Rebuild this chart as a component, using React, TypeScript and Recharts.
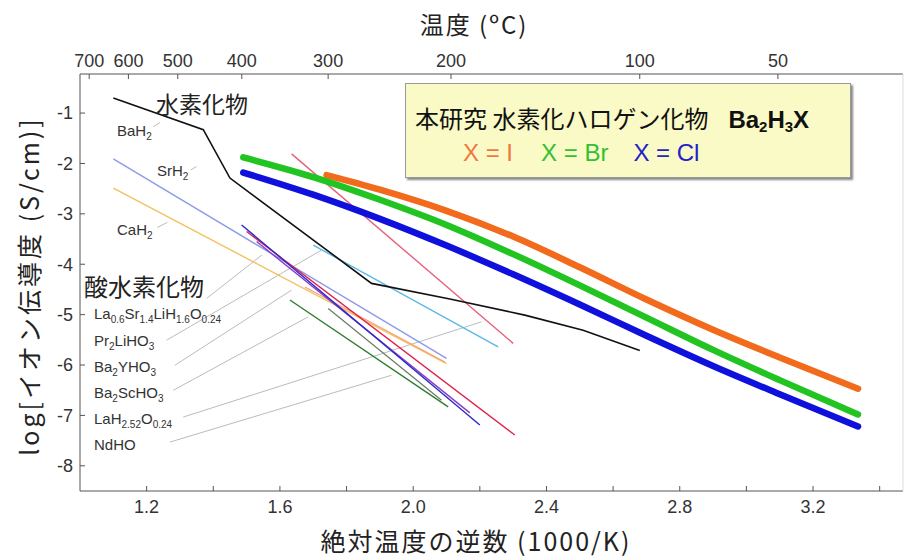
import React from 'react'
import { LineChart, Line, XAxis, YAxis } from 'recharts'

// axis ticks
const tempLabelsC = [700, 600, 500, 400, 300, 200, 100, 50]
const inverseTicks = [1.2, 1.4, 1.6, 1.8, 2.0, 2.2, 2.4, 2.6, 2.8, 3.0, 3.2, 3.4]
const logTicks = [-1, -2, -3, -4, -5, -6, -7, -8]

// this work: Ba2H3X  [1000/T, log sigma]
const ba2h3i = [[1.74, -2.23], [1.9, -2.52], [2.1, -2.94], [2.3, -3.45], [2.5, -4.06], [2.7, -4.7], [2.9, -5.3], [3.1, -5.85], [3.335, -6.47]]
const ba2h3br = [[1.49, -1.88], [1.7, -2.27], [1.9, -2.72], [2.1, -3.22], [2.3, -3.8], [2.5, -4.42], [2.7, -5.06], [2.9, -5.7], [3.1, -6.3], [3.335, -6.98]]
const ba2h3cl = [[1.49, -2.18], [1.7, -2.62], [1.9, -3.1], [2.1, -3.63], [2.3, -4.2], [2.5, -4.8], [2.7, -5.42], [2.9, -6.02], [3.1, -6.58], [3.335, -7.22]]

// hydrides
const bah2 = [[1.1, -0.7], [1.37, -1.33], [1.45, -2.29], [1.875, -4.38], [2.11, -4.69], [2.335, -5.01], [2.51, -5.31], [2.68, -5.71]]
const srh2 = [[1.1, -1.91], [2.1, -5.87]]
const cah2 = [[1.1, -2.49], [2.1, -5.97]]

// oxyhydrides
const laSrLiHO = [[1.635, -1.81], [2.3, -5.57]]
const pr2LiHO3 = [[1.7, -3.62], [2.255, -5.64]]
const ba2YHO3 = [[1.485, -3.22], [2.2, -7.19]]
const ba2ScHO3 = [[1.5, -3.35], [2.305, -7.39]]
const laH252O = [[1.53, -3.55], [2.17, -6.95]]
const ndHO = [[1.63, -4.71], [2.105, -6.83]]
const extraA = [[1.745, -4.88], [2.085, -6.7]]
const extraB = [[1.675, -4.45], [2.095, -5.94]]

// label leaders
const leaderLa = [[1.38, -4.678], [1.546, -3.817]]
const leaderPr = [[1.26, -5.507], [1.725, -3.718]]
const leaderY = [[1.285, -6.004], [1.635, -4.513]]
const leaderSc = [[1.28, -6.501], [1.685, -5.044]]
const leaderLaH = [[1.31, -7.032], [2.205, -5.143]]
const leaderNd = [[1.27, -7.529], [1.935, -6.203]]
const leaderBa = [[1.22, -1.27], [1.24, -1.19]]
const leaderSr = [[1.332, -2.13], [1.35, -2.06]]
const leaderCa = [[1.232, -3.27], [1.262, -3.17]]

const pts = (a: number[][]) => a.map(([x, y]) => ({ x, y }))

const series = [
  { key: 'lLa', d: leaderLa, c: '#aaaaaa', w: 0.8 },
  { key: 'lPr', d: leaderPr, c: '#aaaaaa', w: 0.8 },
  { key: 'lY', d: leaderY, c: '#aaaaaa', w: 0.8 },
  { key: 'lSc', d: leaderSc, c: '#aaaaaa', w: 0.8 },
  { key: 'lLaH', d: leaderLaH, c: '#aaaaaa', w: 0.8 },
  { key: 'lNd', d: leaderNd, c: '#aaaaaa', w: 0.8 },
  { key: 'lBa', d: leaderBa, c: '#aaaaaa', w: 0.8 },
  { key: 'lSr', d: leaderSr, c: '#aaaaaa', w: 0.8 },
  { key: 'lCa', d: leaderCa, c: '#aaaaaa', w: 0.8 },
  { key: 'srh2', d: srh2, c: '#8c9be8', w: 1.4 },
  { key: 'cah2', d: cah2, c: '#f4c060', w: 1.4 },
  { key: 'extraB', d: extraB, c: '#f5a07a', w: 1.2 },
  { key: 'laSr', d: laSrLiHO, c: '#e8607a', w: 1.4 },
  { key: 'pr2', d: pr2LiHO3, c: '#5cb8e8', w: 1.4 },
  { key: 'extraA', d: extraA, c: '#6a7a6a', w: 1.2 },
  { key: 'ba2Sc', d: ba2ScHO3, c: '#e0204a', w: 1.4 },
  { key: 'laH', d: laH252O, c: '#8a3cc8', w: 1.4 },
  { key: 'ba2Y', d: ba2YHO3, c: '#2a2ac8', w: 1.4 },
  { key: 'nd', d: ndHO, c: '#2e7d2e', w: 1.4 },
  { key: 'bah2', d: bah2, c: '#111111', w: 1.6 },
]

const thick = [
  { key: 'I', d: ba2h3i, c: '#f26a1b' },
  { key: 'Br', d: ba2h3br, c: '#22c422' },
  { key: 'Cl', d: ba2h3cl, c: '#1010dd' },
]

const latin = '"Liberation Sans", Arial, sans-serif'
const jp = '"Noto Sans CJK JP", "Noto Sans", sans-serif'
const tickStyle = { fill: '#333', fontSize: 18, fontFamily: latin }

const Sub = ({ children, size = 10 }: { children: React.ReactNode; size?: number }) => (
  <span style={{ fontSize: size, position: 'relative', top: 4 }}>{children}</span>
)

const Lbl = ({ x, y, size = 15, children, style }: any) => (
  <div style={{ position: 'absolute', left: x, top: y, transform: 'translateY(-50%)', fontSize: size, lineHeight: 1, whiteSpace: 'nowrap', color: '#333', fontFamily: latin, ...style }}>
    {children}
  </div>
)

export default function App() {
  return (
    <div style={{ position: 'absolute', left: 0, top: 0, width: 904, height: 559, background: '#fff', overflow: 'hidden' }}>
      <LineChart width={904} height={559} margin={{ top: 44, right: 0, bottom: 38, left: 40 }}>
        <XAxis xAxisId="bottom" type="number" dataKey="x" domain={[1.0, 3.47]} ticks={inverseTicks} allowDataOverflow
          height={30} tickSize={-5} tickMargin={14} tick={tickStyle} stroke="#555"
          tickFormatter={(v: number) => (Math.round(v * 10) % 4 === 0 ? v.toFixed(1) : '')} />
        <XAxis xAxisId="top" orientation="top" type="number" dataKey="x" domain={[1.0, 3.47]} allowDataOverflow
          ticks={tempLabelsC.map((t) => 1000 / (t + 273.15))} height={30} tickSize={-5} tickMargin={12}
          tick={tickStyle} stroke="#555" tickFormatter={(v: number) => String(Math.round(1000 / v - 273.15))} />
        <YAxis yAxisId="left" type="number" domain={[-8.5, -0.225]} ticks={logTicks} allowDataOverflow width={40}
          tickSize={-5} tickMargin={12} tick={tickStyle} stroke="#555" />
        <YAxis yAxisId="right" orientation="right" type="number" domain={[-8.5, -0.225]} width={1} tick={false}
          tickLine={false} stroke="#ddd" />
        {series.map((s) => (
          <Line key={s.key} xAxisId="bottom" yAxisId="left" data={pts(s.d)} dataKey="y" stroke={s.c}
            strokeWidth={s.w} dot={false} isAnimationActive={false} type="linear" />
        ))}
        {thick.map((s) => (
          <Line key={s.key} xAxisId="bottom" yAxisId="left" data={pts(s.d)} dataKey="y" stroke={s.c}
            strokeWidth={6.5} dot={false} isAnimationActive={false} type="monotone" strokeLinecap="round" />
        ))}
      </LineChart>

      <div style={{ position: 'absolute', left: 474, top: 24, transform: 'translate(-50%,-50%)', fontSize: 24, letterSpacing: 2, fontFamily: jp, color: '#222', whiteSpace: 'nowrap', lineHeight: 1 }}>
        温度 (ºC)
      </div>
      <div style={{ position: 'absolute', left: 476, top: 540, transform: 'translate(-50%,-50%)', fontSize: 25, letterSpacing: 2, fontFamily: jp, color: '#222', whiteSpace: 'nowrap', lineHeight: 1 }}>
        絶対温度の逆数 (1000/K)
      </div>
      <div style={{ position: 'absolute', left: 28, top: 286, transform: 'translate(-50%,-50%) rotate(-90deg)', fontSize: 25, letterSpacing: 3, fontFamily: jp, color: '#222', whiteSpace: 'nowrap', lineHeight: 1 }}>
        log[イオン伝導度 (S/cm)]
      </div>

      <Lbl x={156} y={103} size={23} style={{ fontFamily: jp, color: '#222' }}>水素化物</Lbl>
      <Lbl x={117} y={130}>BaH<Sub>2</Sub></Lbl>
      <Lbl x={157} y={170}>SrH<Sub>2</Sub></Lbl>
      <Lbl x={117} y={229}>CaH<Sub>2</Sub></Lbl>
      <Lbl x={84} y={286} size={24} style={{ fontFamily: jp, color: '#222' }}>酸水素化物</Lbl>
      <Lbl x={94} y={313}>La<Sub>0.6</Sub>Sr<Sub>1.4</Sub>LiH<Sub>1.6</Sub>O<Sub>0.24</Sub></Lbl>
      <Lbl x={94} y={340}>Pr<Sub>2</Sub>LiHO<Sub>3</Sub></Lbl>
      <Lbl x={94} y={366}>Ba<Sub>2</Sub>YHO<Sub>3</Sub></Lbl>
      <Lbl x={94} y={392}>Ba<Sub>2</Sub>ScHO<Sub>3</Sub></Lbl>
      <Lbl x={94} y={418}>LaH<Sub>2.52</Sub>O<Sub>0.24</Sub></Lbl>
      <Lbl x={94} y={444}>NdHO</Lbl>

      <div style={{ position: 'absolute', left: 405, top: 83, width: 444, height: 93, background: '#fafac6', border: '1px solid #999', boxShadow: '2px 2px 2px #888' }}>
        <div style={{ position: 'absolute', left: 9, top: 35, transform: 'translateY(-50%)', fontSize: 24, fontFamily: jp, color: '#111', whiteSpace: 'nowrap', lineHeight: 1 }}>
          本研究 水素化ハロゲン化物
          <span style={{ fontFamily: latin, fontWeight: 700, marginLeft: 20 }}>
            Ba<Sub size={15}>2</Sub>H<Sub size={15}>3</Sub>X
          </span>
        </div>
        <div style={{ position: 'absolute', left: 57, top: 69, transform: 'translateY(-50%)', fontSize: 24, fontFamily: latin, whiteSpace: 'nowrap', lineHeight: 1 }}>
          <span style={{ color: '#f07840' }}>X = I</span>
          <span style={{ color: '#33c033', marginLeft: 28 }}>X = Br</span>
          <span style={{ color: '#2222cc', marginLeft: 25 }}>X = Cl</span>
        </div>
      </div>
    </div>
  )
}
